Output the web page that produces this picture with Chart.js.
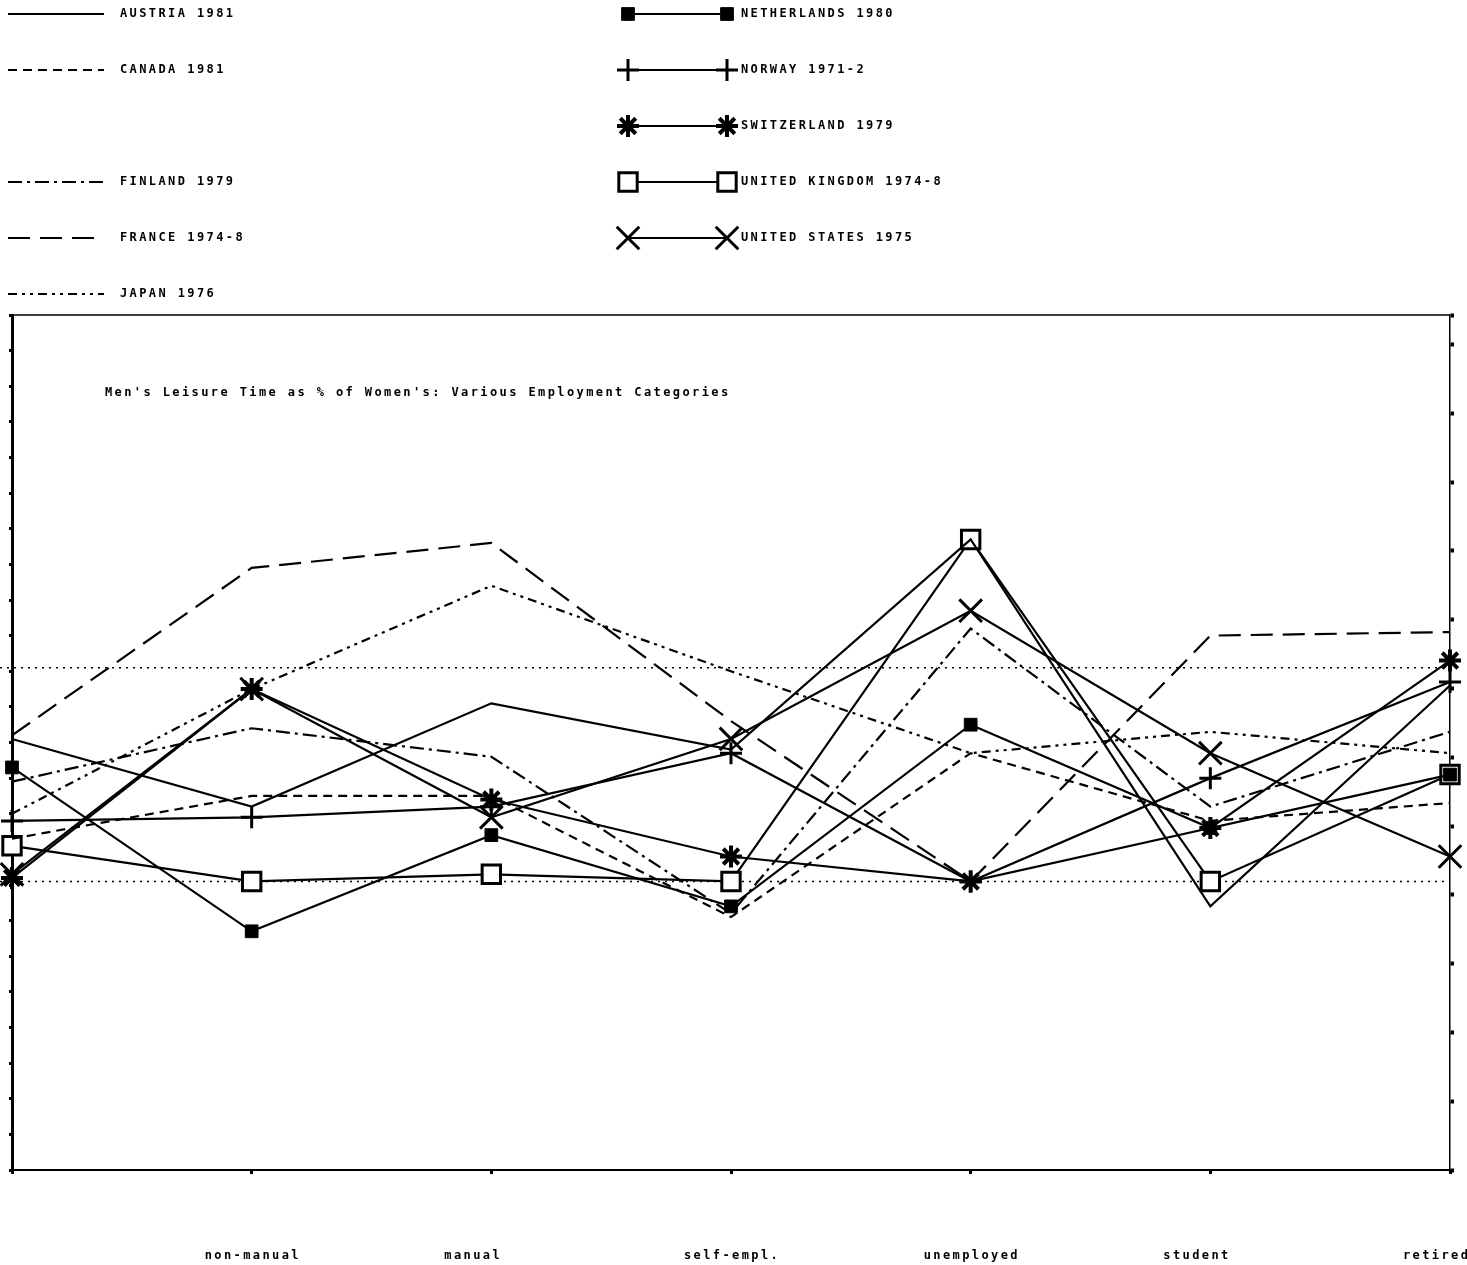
<!DOCTYPE html>
<html>
<head>
<meta charset="utf-8">
<title>Men's Leisure Time as % of Women's</title>
<script src="https://cdn.jsdelivr.net/npm/chart.js@4.4.1/dist/chart.umd.min.js"></script>
<style>
  html, body { margin: 0; padding: 0; background: #fff; }
  #wrap { width: 1467px; height: 1265px; position: relative; }
</style>
</head>
<body>
<div id="wrap"><canvas id="leisureChart"></canvas></div>
<script>
// x categories (the first position carries no label in the original)
const categories = ["", "non-manual", "manual", "self-empl.", "unemployed", "student", "retired"];

// men's leisure time as % of women's
const austria     = [120, 110.5, 125, 118.5, 148, 96.5, 127.5];
const canada      = [106, 112, 112, 95, 118, 108.5, 111];
const finland     = [114, 121.5, 117.5, 95.5, 135.5, 110.5, 121];
const france      = [120.5, 144, 147.5, 122.5, 100, 134.5, 135];
const japan       = [109.5, 127, 141.5, 129.5, 118, 121, 118];
const netherlands = [116, 93, 106.5, 96.5, 122, 107.5, 115];
const norway      = [108.5, 109, 110.5, 118, 100, 114.5, 128];
const switzerland = [100.5, 127, 111.5, 103.5, 100, 107.5, 131];
const uk          = [105, 100, 101, 100, 148, 100, 115];
const us          = [101, 127, 109, 120, 138, 118, 103.5];

const seriesNames = [
  "AUSTRIA 1981", "CANADA 1981", "FINLAND 1979", "FRANCE 1974-8", "JAPAN 1976",
  "NETHERLANDS 1980", "NORWAY 1971-2", "SWITZERLAND 1979", "UNITED KINGDOM 1974-8", "UNITED STATES 1975"
];

// dotted reference levels
const refLines = [100, 130];

const titleText = "Men's Leisure Time as % of Women's: Various Employment Categories";

const FONT = "bold 12px 'DejaVu Sans Mono', monospace";
const SPACING = "2.4px";

function lineSet(label, data, dash) {
  return {
    label: label, data: data,
    borderColor: "#000", borderWidth: 2.2, borderDash: dash,
    pointRadius: 0, tension: 0, fill: false, clip: false
  };
}

function markerSet(label, data, style, radius, width, fillColor) {
  return {
    label: label, data: data,
    borderColor: "#000", borderWidth: 2.2,
    pointStyle: style, pointRadius: radius, pointBorderWidth: width,
    pointBorderColor: "#000", pointBackgroundColor: fillColor,
    tension: 0, fill: false, clip: false
  };
}

const datasets = [
  lineSet(seriesNames[0], austria, []),
  lineSet(seriesNames[1], canada, [9, 6]),
  lineSet(seriesNames[2], finland, [14, 5, 3, 5]),
  lineSet(seriesNames[3], france, [22, 10]),
  lineSet(seriesNames[4], japan, [9, 5, 3, 5, 3, 5]),
  markerSet(seriesNames[5], netherlands, "rect", 9, 1, "#000"),
  markerSet(seriesNames[6], norway, "cross", 11, 3, "#000"),
  markerSet(seriesNames[7], switzerland, "star", 11, 4, "#000"),
  markerSet(seriesNames[8], uk, "rect", 13, 3, "#fff"),
  markerSet(seriesNames[9], us, "crossRot", 16, 3, "#000")
];

// paper look: white page, frame top, dotted levels, title and legend block
const paperPlugin = {
  id: "paper",
  beforeDraw(chart) {
    const ctx = chart.ctx;
    ctx.fillStyle = "#fff";
    ctx.fillRect(0, 0, chart.width, chart.height);
    ctx.letterSpacing = SPACING;
  },
  beforeDatasetsDraw(chart) {
    const ctx = chart.ctx;
    const area = chart.chartArea;
    const y = chart.scales.y;
    ctx.save();
    ctx.strokeStyle = "#000";
    // top frame line
    ctx.lineWidth = 1.5;
    ctx.beginPath();
    ctx.moveTo(area.left - 2, area.top);
    ctx.lineTo(area.right, area.top);
    ctx.stroke();
    // dotted reference levels
    ctx.setLineDash([2, 5]);
    refLines.forEach(v => {
      const py = y.getPixelForValue(v);
      ctx.beginPath();
      ctx.moveTo(0, py);
      ctx.lineTo(area.right, py);
      ctx.stroke();
    });
    ctx.restore();
  },
  afterDraw(chart) {
    const ctx = chart.ctx;
    ctx.save();
    ctx.letterSpacing = SPACING;
    ctx.font = FONT;
    ctx.fillStyle = "#000";
    ctx.textBaseline = "middle";
    ctx.textAlign = "left";
    ctx.fillText(titleText, 105, 393);

    // legend: left column = plain line styles, right column = marked lines
    const slots = [[0, 0], [0, 1], [0, 3], [0, 4], [0, 5], [1, 0], [1, 1], [1, 2], [1, 3], [1, 4]];
    chart.data.datasets.forEach((ds, i) => {
      const col = slots[i][0];
      const rowY = 14 + slots[i][1] * 56;
      ctx.strokeStyle = "#000";
      ctx.lineWidth = 2;
      if (col === 0) {
        ctx.setLineDash(ds.borderDash || []);
        ctx.beginPath();
        ctx.moveTo(8, rowY);
        ctx.lineTo(104, rowY);
        ctx.stroke();
        ctx.setLineDash([]);
        ctx.fillStyle = "#000";
        ctx.fillText(ds.label, 120, rowY);
      } else {
        ctx.setLineDash([]);
        ctx.beginPath();
        ctx.moveTo(628, rowY);
        ctx.lineTo(727, rowY);
        ctx.stroke();
        [628, 727].forEach(px => {
          ctx.fillStyle = ds.pointBackgroundColor;
          ctx.lineWidth = ds.pointBorderWidth;
          Chart.helpers.drawPoint(ctx, {
            pointStyle: ds.pointStyle, rotation: 0,
            radius: ds.pointRadius, borderWidth: ds.pointBorderWidth
          }, px, rowY);
        });
        ctx.fillStyle = "#000";
        ctx.fillText(ds.label, 741, rowY);
      }
    });
    ctx.restore();
  }
};

const ctx = document.getElementById("leisureChart").getContext("2d");

new Chart(ctx, {
  type: "line",
  data: { labels: categories, datasets: datasets },
  options: {
    responsive: true,
    maintainAspectRatio: false,
    animation: false,
    layout: { autoPadding: false, padding: { top: 315, left: 12, right: 17, bottom: 0 } },
    plugins: {
      legend: { display: false },
      title: { display: false },
      tooltip: { enabled: false }
    },
    scales: {
      x: {
        offset: false,
        border: { display: true, color: "#000", width: 2 },
        grid: { drawOnChartArea: false, drawTicks: true, tickLength: 4, tickWidth: 3, tickColor: "#000" },
        ticks: {
          color: "#000", font: { family: "'DejaVu Sans Mono', monospace", size: 12, weight: "bold" },
          padding: 75, align: "start", labelOffset: -47, autoSkip: false, maxRotation: 0, minRotation: 0
        },
        afterFit(scale) {
          scale.height = 95;
          scale.paddingLeft = 0;
          scale.paddingRight = 0;
        }
      },
      y: {
        position: "left",
        min: 59.5, max: 179.5,
        border: { display: true, color: "#000", width: 3 },
        grid: { drawOnChartArea: false, drawTicks: true, tickLength: 3, tickWidth: 3, tickColor: "#000" },
        ticks: { display: false, stepSize: 5 },
        afterFit(scale) { scale.width = 0; scale.paddingTop = 0; scale.paddingBottom = 0; }
      },
      y2: {
        position: "right",
        min: 0, max: 12.43,
        border: { display: true, color: "#000", width: 1.5, dash: [2, 6] },
        grid: { drawOnChartArea: false, drawTicks: true, tickLength: 4, tickWidth: 4, tickColor: "#000" },
        ticks: { display: false, stepSize: 1 },
        afterFit(scale) { scale.width = 0; scale.paddingTop = 0; scale.paddingBottom = 0; }
      }
    }
  },
  plugins: [paperPlugin]
});
</script>
</body>
</html>
